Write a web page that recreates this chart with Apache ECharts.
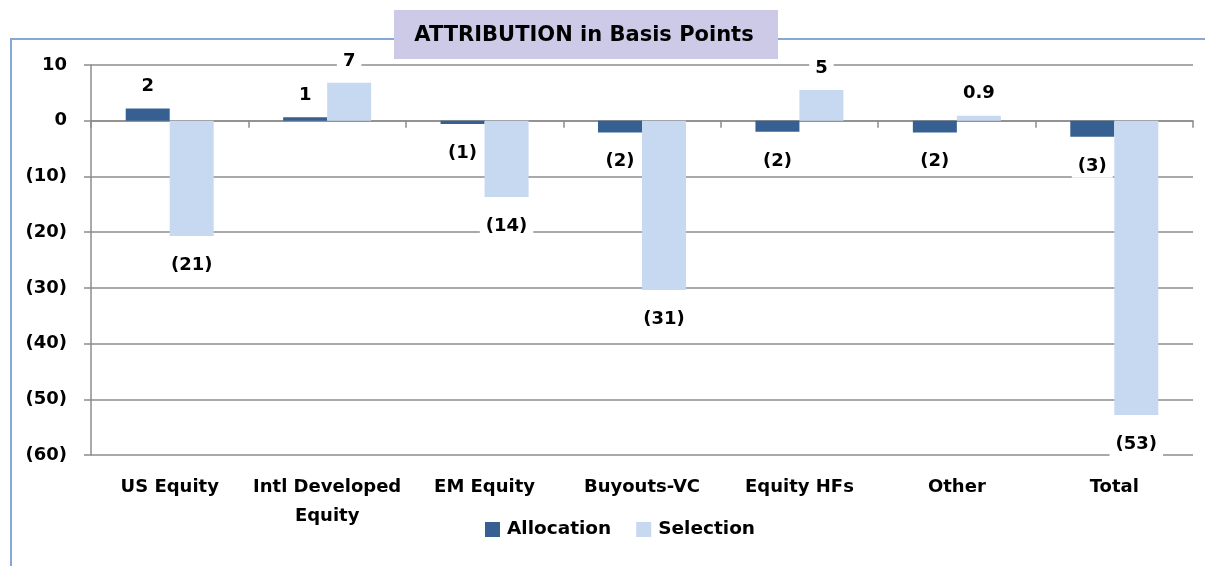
<!DOCTYPE html>
<html>
<head>
<meta charset="utf-8">
<script src="https://cdn.jsdelivr.net/npm/echarts@6/dist/echarts.min.js"></script>
<style>
  html, body { margin: 0; padding: 0; background: #fff; }
  #chart { width: 1205px; height: 566px; }
</style>
</head>
<body>
<div id="chart"></div>
<script>
// данные
const categories = ['US Equity', 'Intl Developed\nEquity', 'EM Equity', 'Buyouts-VC', 'Equity HFs', 'Other', 'Total'];
const allocation = [2.2, 0.6, -0.6, -2.1, -2.0, -2.1, -2.9];
const selection = [-20.7, 6.8, -13.7, -30.4, 5.5, 0.9, -52.8];
const allocationLabels = ['2', '1', '(1)', '(2)', '(2)', '(2)', '(3)'];
const selectionLabels = ['(21)', '7', '(14)', '(31)', '5', '0.9', '(53)'];

const font = '"DejaVu Sans", sans-serif';

// подписи: сверху для положительных, снизу для отрицательных
function toItems(values, labels) {
  return values.map((v, i) => ({
    value: v,
    label: {
      position: v >= 0 ? 'top' : 'bottom',
      distance: v >= 0 ? 10 : 17,
      formatter: labels[i]
    }
  }));
}

const labelStyle = {
  show: true,
  color: '#000',
  fontFamily: font,
  fontWeight: 'bold',
  fontSize: 18,
  backgroundColor: '#fff',
  padding: [3, 6]
};

const myChart = echarts.init(document.getElementById('chart'));

const option = {
  animation: false,
  grid: { left: 91, right: 12, top: 65, bottom: 111 },
  graphic: [
    {
      type: 'rect',
      shape: { x: 11, y: 39, width: 1300, height: 700 },
      style: { fill: 'none', stroke: '#86a8d6', lineWidth: 2 },
      z: -1
    },
    {
      type: 'rect',
      shape: { x: 394, y: 10, width: 384, height: 49 },
      style: { fill: '#cccae6' },
      z: 10
    },
    {
      type: 'text',
      x: 584,
      y: 36,
      style: {
        text: 'ATTRIBUTION in Basis Points',
        fill: '#000',
        font: 'bold 21px "DejaVu Sans", sans-serif',
        align: 'center',
        verticalAlign: 'middle'
      },
      z: 11
    }
  ],
  legend: {
    bottom: 22,
    left: 480,
    itemWidth: 15,
    itemHeight: 15,
    itemGap: 25,
    icon: 'rect',
    textStyle: { fontFamily: font, fontWeight: 'bold', fontSize: 18.5, color: '#000', padding: [0, 0, 0, 2] },
    data: ['Allocation', 'Selection']
  },
  xAxis: [
    {
      type: 'category',
      data: categories,
      axisLine: { show: false, onZero: false },
      axisTick: { show: false },
      axisLabel: {
        color: '#000',
        fontFamily: font,
        fontWeight: 'bold',
        fontSize: 18,
        lineHeight: 29,
        margin: 18,
        interval: 0
      }
    },
    {
      type: 'category',
      position: 'top',
      data: categories,
      axisLine: { show: true, onZero: true, lineStyle: { color: '#8c8c8c', width: 1.5 } },
      axisTick: { show: true, inside: true, length: 7, lineStyle: { color: '#8c8c8c', width: 1.5 } },
      axisLabel: { show: false }
    }
  ],
  yAxis: {
    type: 'value',
    min: -60,
    max: 10,
    interval: 10,
    axisLine: { show: true, lineStyle: { color: '#8c8c8c', width: 1.5 } },
    axisTick: { show: true, length: 7, lineStyle: { color: '#8c8c8c', width: 1.5 } },
    splitLine: { lineStyle: { color: '#8c8c8c', width: 1.5 } },
    axisLabel: {
      color: '#000',
      fontFamily: font,
      fontWeight: 'bold',
      fontSize: 18,
      margin: 24,
      formatter: v => v < 0 ? '(' + (-v) + ')' : String(v)
    }
  },
  series: [
    {
      name: 'Allocation',
      type: 'bar',
      xAxisIndex: 0,
      barWidth: 44,
      barGap: '0%',
      itemStyle: { color: '#366092' },
      label: labelStyle,
      data: toItems(allocation, allocationLabels)
    },
    {
      name: 'Selection',
      type: 'bar',
      xAxisIndex: 0,
      barWidth: 44,
      barGap: '0%',
      itemStyle: { color: '#c6d9f1' },
      label: labelStyle,
      data: toItems(selection, selectionLabels)
    }
  ]
};

option && myChart.setOption(option);
</script>
</body>
</html>
